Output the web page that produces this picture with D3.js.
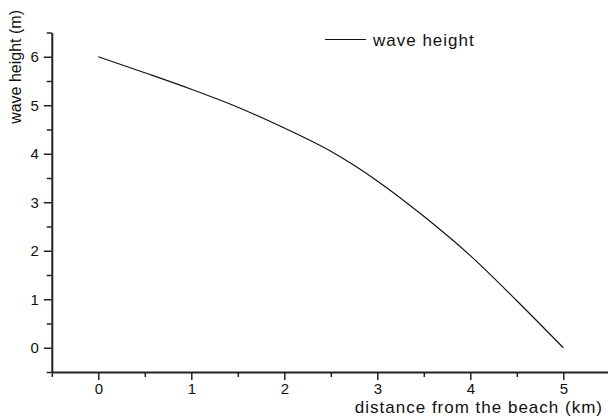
<!DOCTYPE html>
<html>
<head>
<meta charset="utf-8">
<script src="https://cdn.jsdelivr.net/npm/d3@7"></script>
<style>
  body { margin: 0; background: #fff; }
  text { font-family: "Liberation Sans", Arial, Helvetica, sans-serif; fill: #111; }
</style>
</head>
<body>
<script>
// data
var distance = [0, 0.5, 1, 1.5, 2, 2.5, 3, 3.5, 4, 4.5, 5];
var waveHeight = [6, 5.67, 5.33, 4.96, 4.53, 4.05, 3.44, 2.71, 1.9, 0.97, 0];
var xTicks = [0, 1, 2, 3, 4, 5];
var yTicks = [0, 1, 2, 3, 4, 5, 6];
var seriesName = 'wave height';

var width = 608, height = 419;

var svg = d3.select('body').append('svg')
  .attr('width', width).attr('height', height);

var x = d3.scaleLinear().domain([-0.5, 5.5]).range([51.8, 609.8]);
var y = d3.scaleLinear().domain([-0.5, 6.5]).range([372, 32.5]);

var minorX = d3.range(-0.5, 5.6, 0.5).filter(function(d){ return xTicks.indexOf(d) < 0; });
var minorY = d3.range(-0.5, 6.6, 0.5).filter(function(d){ return yTicks.indexOf(d) < 0; });

// minor ticks first
svg.append('g').attr('transform', 'translate(0,372)')
  .call(d3.axisBottom(x).tickValues(minorX).tickSize(5).tickFormat(''))
  .call(function(g){ g.select('.domain').remove(); });
svg.append('g').attr('transform', 'translate(51.8,0)')
  .call(d3.axisLeft(y).tickValues(minorY).tickSize(5).tickFormat(''))
  .call(function(g){ g.select('.domain').remove(); });

// major ticks + axis line
svg.append('g').attr('transform', 'translate(0,372)')
  .call(d3.axisBottom(x).tickValues(xTicks).tickSize(8).tickSizeOuter(0).tickPadding(3).tickFormat(d3.format('d')));
svg.append('g').attr('transform', 'translate(51.8,0)')
  .call(d3.axisLeft(y).tickValues(yTicks).tickSize(8).tickSizeOuter(0).tickPadding(5).tickFormat(d3.format('d')));

svg.selectAll('.domain').attr('stroke', '#222').attr('stroke-width', 2);
svg.selectAll('.tick line').attr('stroke', '#222').attr('stroke-width', 1.5);
svg.selectAll('.tick text').style('font-size', '15px').attr('fill', '#111');

// line
var line = d3.line()
  .x(function(d, i){ return x(distance[i]); })
  .y(function(d){ return y(d); })
  .curve(d3.curveCatmullRom.alpha(0.5));

svg.append('path').datum(waveHeight)
  .attr('d', line)
  .attr('fill', 'none')
  .attr('stroke', '#111')
  .attr('stroke-width', 1.2);

// axis titles
svg.append('text')
  .attr('x', 603).attr('y', 412.5)
  .attr('text-anchor', 'end')
  .style('font-size', '17px').style('letter-spacing', '1px')
  .text('distance from the beach (km)');

svg.append('text')
  .attr('transform', 'translate(21,10) rotate(-90)')
  .attr('text-anchor', 'end')
  .style('font-size', '16px')
  .text('wave height (m)');

// legend
svg.append('line')
  .attr('x1', 325).attr('x2', 366).attr('y1', 39.5).attr('y2', 39.5)
  .attr('stroke', '#111').attr('stroke-width', 1.2);
svg.append('text')
  .attr('x', 373).attr('y', 45.5)
  .style('font-size', '17px').style('letter-spacing', '1px')
  .text(seriesName);
</script>
</body>
</html>
